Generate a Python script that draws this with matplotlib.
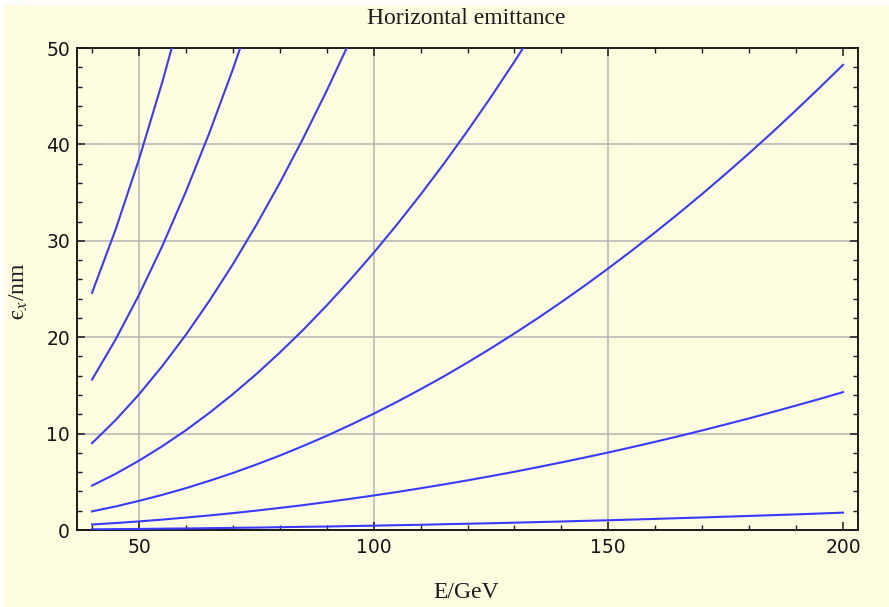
import matplotlib
matplotlib.use("Agg")
import matplotlib.pyplot as plt
from matplotlib.patches import Rectangle
from matplotlib.ticker import MultipleLocator

# ---- data ----
energy = [40, 45, 50, 55, 60, 65, 70, 75, 80, 85, 90, 95, 100, 105, 110, 115, 120,
          125, 130, 135, 140, 145, 150, 155, 160, 165, 170, 175, 180, 185, 190, 195, 200]

curve1 = [24.6, 31.13, 38.44, 46.51, 55.35]
curve2 = [15.6, 19.74, 24.38, 29.49, 35.1, 41.19, 47.78, 54.84]
curve3 = [9.0, 11.39, 14.06, 17.02, 20.25, 23.77, 27.56, 31.64, 36.0, 40.64, 45.56, 50.77]
curve4 = [4.6, 5.82, 7.19, 8.70, 10.35, 12.15, 14.09, 16.17, 18.4, 20.77, 23.29, 25.95,
          28.75, 31.70, 34.79, 38.02, 41.4, 44.92, 48.59, 52.40]
curve5 = [1.93, 2.44, 3.02, 3.65, 4.34, 5.10, 5.91, 6.79, 7.72, 8.72, 9.77, 10.89, 12.06,
          13.30, 14.60, 15.95, 17.37, 18.85, 20.39, 21.98, 23.64, 25.36, 27.14, 28.98,
          30.88, 32.84, 34.86, 36.94, 39.08, 41.28, 43.55, 45.87, 48.25]
curve6 = [0.57, 0.72, 0.89, 1.08, 1.29, 1.51, 1.75, 2.01, 2.29, 2.58, 2.90, 3.23, 3.58,
          3.94, 4.33, 4.73, 5.15, 5.59, 6.04, 6.52, 7.01, 7.52, 8.04, 8.59, 9.15, 9.73,
          10.33, 10.95, 11.58, 12.24, 12.91, 13.59, 14.30]
curve7 = [0.07, 0.09, 0.11, 0.14, 0.16, 0.19, 0.22, 0.25, 0.29, 0.33, 0.36, 0.41, 0.45,
          0.50, 0.54, 0.60, 0.65, 0.70, 0.76, 0.82, 0.88, 0.95, 1.01, 1.08, 1.15, 1.23,
          1.30, 1.38, 1.46, 1.54, 1.62, 1.71, 1.80]
curves = [curve1, curve2, curve3, curve4, curve5, curve6, curve7]

x_major = [50, 100, 150, 200]
x_grid = [50, 100, 150]
y_major = [0, 10, 20, 30, 40, 50]
y_grid = [10, 20, 30, 40]

title = "Horizontal emittance"
xlabel = "E/GeV"
ylabel = "$\\mathrm{\u03f5}_x$/nm"

# ---- style ----
bg = "#fffde0"
line_color = "#3a3aff"
plt.rcParams["mathtext.fontset"] = "stix"

fig = plt.figure(figsize=(8.89, 6.07), dpi=100, facecolor=bg)
# white strips at the top and left edge
fig.patches.append(Rectangle((0, 1 - 5 / 607), 1, 5 / 607, transform=fig.transFigure,
                             facecolor="white", edgecolor="none", zorder=-10))
fig.patches.append(Rectangle((0, 0), 4 / 889, 1, transform=fig.transFigure,
                             facecolor="white", edgecolor="none", zorder=-10))

ax = fig.add_axes([77 / 889, 1 - 530 / 607, (858 - 77) / 889, (530 - 48) / 607])
ax.set_facecolor(bg)

for gx in x_grid:
    ax.axvline(gx, color="#b4b4b4", lw=1.1, zorder=1)
for gy in y_grid:
    ax.axhline(gy, color="#b4b4b4", lw=1.1, zorder=1)

for c in curves:
    ax.plot(energy[:len(c)], c, color=line_color, lw=1.5, zorder=3)

ax.set_xlim(36.8, 203.2)
ax.set_ylim(0, 50)
ax.set_xticks(x_major)
ax.set_yticks(y_major)
ax.xaxis.set_minor_locator(MultipleLocator(10))
ax.yaxis.set_minor_locator(MultipleLocator(2))
ax.tick_params(which="both", direction="in", top=True, right=True, color="#1a1a1a")
ax.tick_params(which="major", length=6, width=1.1)
ax.tick_params(which="minor", length=3.3, width=1.0)
ax.tick_params(axis="x", which="major", pad=6, labelsize=13.5, labelcolor="#151515")
ax.tick_params(axis="y", which="major", pad=5, labelsize=13.5, labelcolor="#151515")
for sp in ax.spines.values():
    sp.set_linewidth(1.4)
    sp.set_color("#1a1a1a")

serif = ["Liberation Serif", "DejaVu Serif"]
fig.text(466 / 889, 1 - 18 / 607, title, ha="center", va="center",
         fontsize=17, family=serif, color="#1a1a1a")
fig.text(466 / 889, 1 - 592 / 607, xlabel, ha="center", va="center",
         fontsize=17, family=serif, color="#1a1a1a")
fig.text(19 / 889, 1 - 291 / 607, ylabel, ha="center", va="center", rotation=90,
         fontsize=17, family=serif, color="#1a1a1a")

fig.savefig("out.png", dpi=100, facecolor=bg)
